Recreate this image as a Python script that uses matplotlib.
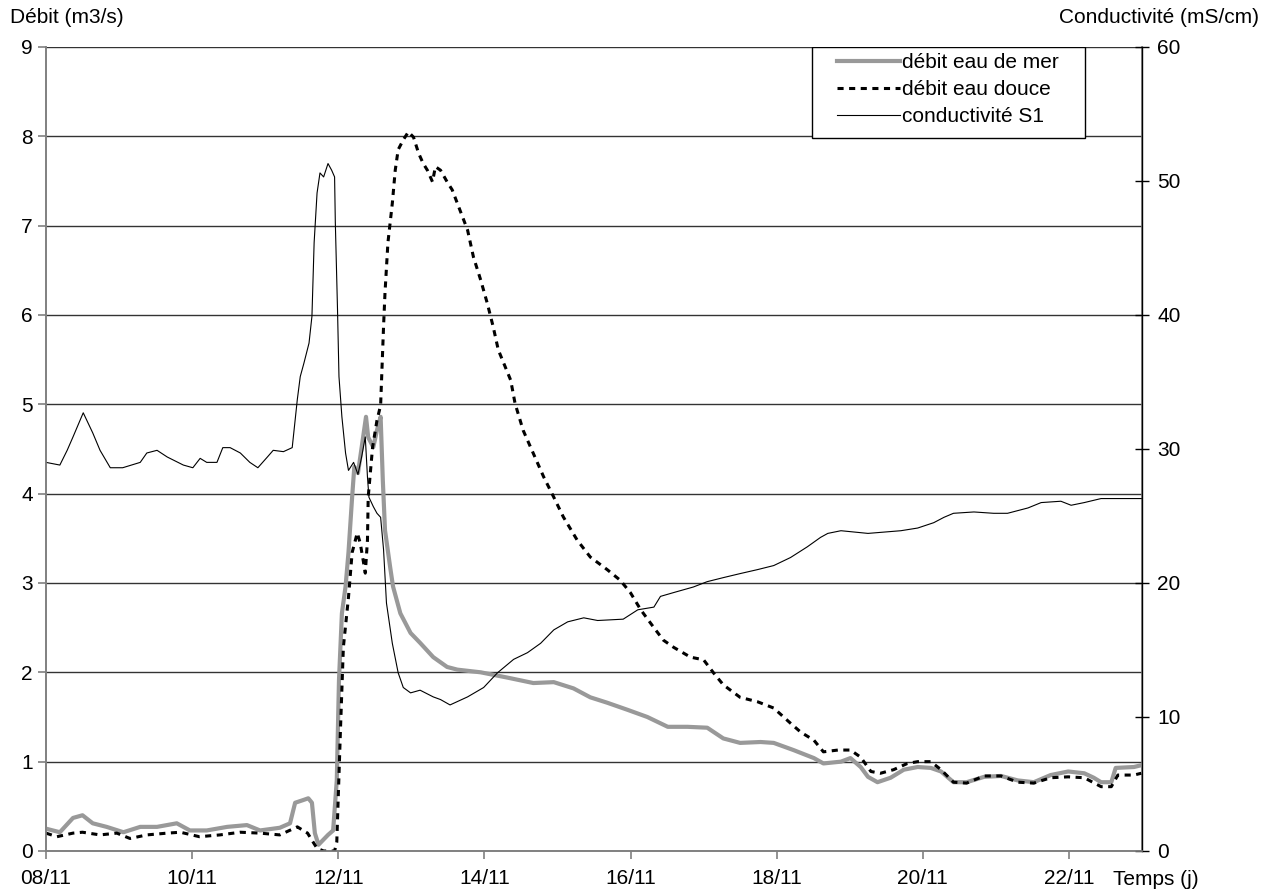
import matplotlib
matplotlib.use("Agg")
import matplotlib.pyplot as plt
from matplotlib.lines import Line2D
from matplotlib.patches import Rectangle

plt.rcParams['font.family'] = ['Liberation Sans', 'DejaVu Sans']

# débit eau de mer (m3/s), jours de novembre
mer_jours = [8.0, 8.19, 8.37, 8.5, 8.64, 8.83, 9.06, 9.29, 9.52, 9.79, 9.97, 10.2,
             10.48, 10.75, 10.93, 11.2, 11.34, 11.41, 11.52, 11.59, 11.64, 11.68,
             11.73, 11.86, 11.93, 11.98, 12.01, 12.05, 12.1, 12.14, 12.19, 12.22,
             12.27, 12.34, 12.38, 12.41, 12.48, 12.53, 12.58, 12.61, 12.64, 12.71,
             12.75, 12.85, 12.99, 13.12, 13.3, 13.49, 13.63, 13.95, 14.32, 14.67,
             14.95, 15.22, 15.45, 15.68, 15.96, 16.23, 16.51, 16.78, 17.05, 17.27,
             17.5, 17.78, 17.96, 18.23, 18.51, 18.64, 18.88, 19.01, 19.15, 19.25,
             19.38, 19.56, 19.74, 19.93, 20.11, 20.25, 20.42, 20.6, 20.84, 21.07,
             21.3, 21.52, 21.75, 21.99, 22.21, 22.34, 22.44, 22.58, 22.64, 22.89, 22.99]
mer_debit = [0.25, 0.21, 0.37, 0.40, 0.31, 0.27, 0.21, 0.27, 0.27, 0.31, 0.23, 0.23,
             0.27, 0.29, 0.23, 0.26, 0.31, 0.54, 0.57, 0.59, 0.54, 0.20,
             0.07, 0.18, 0.23, 0.79, 1.91, 2.66, 2.96, 3.34, 3.96, 4.30,
             4.23, 4.63, 4.86, 4.63, 4.52, 4.71, 4.86, 4.15, 3.59, 3.18,
             2.96, 2.66, 2.44, 2.33, 2.17, 2.06, 2.03, 2.00, 1.94, 1.88,
             1.89, 1.82, 1.72, 1.66, 1.58, 1.50, 1.39, 1.39, 1.38, 1.26,
             1.21, 1.22, 1.21, 1.13, 1.04, 0.98, 1.00, 1.04, 0.94, 0.83,
             0.77, 0.82, 0.91, 0.94, 0.93, 0.89, 0.77, 0.77, 0.83, 0.84,
             0.79, 0.77, 0.85, 0.89, 0.87, 0.82, 0.77, 0.77, 0.93, 0.94, 0.96]

# débit eau douce (m3/s)
douce_jours = [8.0, 8.15, 8.37, 8.5, 8.74, 8.97, 9.15, 9.38, 9.66, 9.84, 10.1, 10.38,
               10.66, 10.93, 11.2, 11.44, 11.58, 11.64, 11.71, 11.8, 11.95, 11.98,
               12.03, 12.07, 12.14, 12.19, 12.26, 12.3, 12.34, 12.37, 12.4, 12.41,
               12.47, 12.53, 12.58, 12.62, 12.64, 12.68, 12.74, 12.78, 12.82, 12.89,
               12.96, 13.03, 13.1, 13.16, 13.22, 13.29, 13.33, 13.4, 13.49, 13.56,
               13.63, 13.7, 13.77, 13.85, 13.95, 14.04, 14.12, 14.19, 14.36, 14.42,
               14.53, 14.67, 14.81, 14.95, 15.08, 15.27, 15.45, 15.68, 15.86, 16.0,
               16.14, 16.32, 16.45, 16.59, 16.82, 17.0, 17.14, 17.27, 17.5, 17.74,
               17.96, 18.19, 18.33, 18.51, 18.64, 18.84, 19.01, 19.15, 19.29, 19.42,
               19.6, 19.79, 19.93, 20.11, 20.25, 20.42, 20.6, 20.84, 21.07, 21.3,
               21.52, 21.75, 21.99, 22.21, 22.44, 22.58, 22.67, 22.89, 22.99]
douce_debit = [0.20, 0.16, 0.20, 0.21, 0.18, 0.20, 0.14, 0.18, 0.20, 0.21, 0.16, 0.18,
               0.21, 0.20, 0.18, 0.27, 0.20, 0.12, 0.03, 0.0, 0.0, 0.10,
               1.35, 2.28, 2.84, 3.34, 3.56, 3.45, 3.26, 3.11, 3.48, 3.96,
               4.52, 4.82, 4.99, 5.87, 6.25, 6.81, 7.25, 7.62, 7.85, 7.96,
               8.05, 7.99, 7.81, 7.70, 7.62, 7.49, 7.66, 7.62, 7.49, 7.40,
               7.25, 7.10, 6.95, 6.65, 6.39, 6.13, 5.87, 5.61, 5.27, 5.01,
               4.71, 4.45, 4.19, 3.96, 3.74, 3.48, 3.29, 3.15, 3.03, 2.89,
               2.70, 2.50, 2.36, 2.28, 2.17, 2.14, 1.99, 1.86, 1.72, 1.67,
               1.60, 1.43, 1.33, 1.24, 1.11, 1.13, 1.13, 1.05, 0.89, 0.87,
               0.91, 0.98, 1.00, 1.00, 0.91, 0.77, 0.76, 0.84, 0.84, 0.77,
               0.76, 0.82, 0.83, 0.82, 0.72, 0.72, 0.85, 0.85, 0.87]

# conductivité S1 (mS/cm)
cond_jours = [8.0, 8.19, 8.29, 8.37, 8.51, 8.64, 8.74, 8.88, 9.05, 9.29, 9.38, 9.52,
              9.66, 9.88, 10.01, 10.11, 10.2, 10.34, 10.42, 10.52, 10.66, 10.79, 10.9,
              11.03, 11.11, 11.25, 11.37, 11.44, 11.48, 11.53, 11.6, 11.64, 11.67,
              11.71, 11.75, 11.8, 11.86, 11.91, 11.95, 11.96, 11.99, 12.01, 12.05,
              12.1, 12.14, 12.21, 12.27, 12.32, 12.37, 12.4, 12.42, 12.48, 12.53,
              12.58, 12.62, 12.66, 12.74, 12.82, 12.89, 12.99, 13.12, 13.3, 13.4,
              13.53, 13.77, 13.99, 14.18, 14.4, 14.59, 14.77, 14.95, 15.14, 15.36,
              15.55, 15.9, 16.1, 16.32, 16.41, 16.6, 16.86, 17.05, 17.27, 17.5,
              17.74, 17.96, 18.19, 18.42, 18.6, 18.7, 18.88, 19.25, 19.7, 19.93,
              20.15, 20.29, 20.42, 20.7, 20.97, 21.16, 21.44, 21.62, 21.89, 22.03,
              22.21, 22.44, 22.99]
cond_s1 = [29.0, 28.8, 29.9, 30.9, 32.7, 31.2, 29.9, 28.6, 28.6, 29.0, 29.7, 29.9,
           29.4, 28.8, 28.6, 29.3, 29.0, 29.0, 30.1, 30.1, 29.7, 29.0, 28.6,
           29.4, 29.9, 29.8, 30.1, 33.7, 35.4, 36.4, 37.9, 39.9, 45.4,
           49.1, 50.6, 50.3, 51.3, 50.8, 50.3, 46.9, 40.4, 35.4, 32.4,
           29.7, 28.4, 29.0, 28.1, 29.4, 30.9, 27.9, 26.4, 25.7, 25.2,
           24.9, 22.5, 18.5, 15.5, 13.3, 12.2, 11.8, 12.0, 11.5, 11.3,
           10.9, 11.5, 12.2, 13.3, 14.3, 14.8, 15.5, 16.5, 17.1, 17.4,
           17.2, 17.3, 18.0, 18.2, 19.0, 19.3, 19.7, 20.1, 20.4, 20.7,
           21.0, 21.3, 21.9, 22.7, 23.4, 23.7, 23.9, 23.7, 23.9, 24.1,
           24.5, 24.9, 25.2, 25.3, 25.2, 25.2, 25.6, 26.0, 26.1, 25.8,
           26.0, 26.3, 26.3]

x_ticks = [8, 10, 12, 14, 16, 18, 20, 22]
x_labels = ['08/11', '10/11', '12/11', '14/11', '16/11', '18/11', '20/11', '22/11']

fs = 15

fig = plt.figure(figsize=(12.7, 8.91), dpi=100)
ax = fig.add_axes([0.0362, 0.0449, 0.8630, 0.9024])
ax2 = ax.twinx()

ax.plot(mer_jours, mer_debit, color='#999999', lw=3, zorder=3)
ax.plot(douce_jours, douce_debit, color='black', lw=2.2, dashes=(2, 1.8), zorder=4)
ax2.plot(cond_jours, cond_s1, color='black', lw=0.8)

ax.set_xlim(8, 23)
ax.set_ylim(0, 9)
ax2.set_ylim(0, 60)

ax.set_yticks(range(0, 10))
ax2.set_yticks(range(0, 61, 10))
ax.set_xticks(x_ticks)
ax.set_xticklabels(x_labels)

ax.grid(axis='y', color='#333333', lw=1)
ax.set_axisbelow(True)

for a in (ax, ax2):
    for s in a.spines.values():
        s.set_color('#808080')
        s.set_linewidth(1.2)
    a.spines['top'].set_visible(False)
ax2.spines['right'].set_color('black')
ax2.spines['right'].set_linewidth(1)

ax.tick_params(axis='both', labelsize=fs, colors='#808080', labelcolor='black',
               direction='out', length=6, width=1.2)
ax.tick_params(axis='x', pad=7)
ax2.tick_params(axis='y', labelsize=fs, direction='inout', length=10,
                colors='black', width=1, pad=6)

fig.text(0.008, 0.98, 'Débit (m3/s)', fontsize=fs, va='center', ha='left')
fig.text(0.991, 0.98, 'Conductivité (mS/cm)', fontsize=fs, va='center', ha='right')
fig.text(0.876, 0.013, 'Temps (j)', fontsize=fs, va='center', ha='left')

handles = [
    Line2D([], [], color='#999999', lw=3),
    Line2D([], [], color='black', lw=2.2, dashes=(2, 1.8)),
    Line2D([], [], color='black', lw=0.8),
]
labels = ['débit eau de mer', 'débit eau douce', 'conductivité S1']
leg = ax2.legend(handles, labels, loc='upper left', bbox_to_anchor=(0.722, 0.992),
                 fontsize=fs, frameon=False, borderaxespad=0, borderpad=0,
                 handlelength=3.0, handletextpad=0.1, labelspacing=0.37)
# cadre de la légende
ax2.add_patch(Rectangle((0.699, 0.887), 0.249, 0.113, transform=ax2.transAxes,
                        facecolor='white', edgecolor='black', lw=1, zorder=4.5))
leg.set_zorder(5)

fig.savefig('out.png', dpi=100)
